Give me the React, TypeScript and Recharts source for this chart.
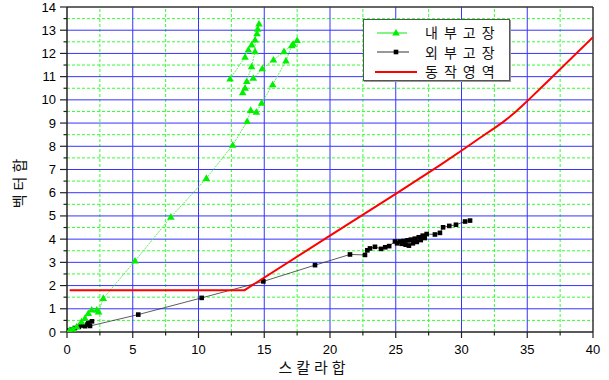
import React from 'react';
import { ScatterChart, Scatter, XAxis, YAxis, ReferenceLine, Legend } from 'recharts';

const internalFault = [
  { x: 0.2, y: 0.08 }, { x: 0.45, y: 0.12 }, { x: 0.74, y: 0.23 }, { x: 1.1, y: 0.44 },
  { x: 1.37, y: 0.59 }, { x: 1.62, y: 0.8 }, { x: 1.88, y: 0.95 }, { x: 2.26, y: 0.95 },
  { x: 2.4, y: 0.87 }, { x: 2.76, y: 1.45 }, { x: 5.17, y: 3.06 }, { x: 7.9, y: 4.95 },
  { x: 10.6, y: 6.62 }, { x: 12.6, y: 8.05 }, { x: 13.7, y: 9.07 }, { x: 13.97, y: 9.55 },
  { x: 14.4, y: 9.47 }, { x: 14.8, y: 9.86 }, { x: 15.64, y: 10.65 }, { x: 16.65, y: 11.68 },
  { x: 17.09, y: 12.33 }, { x: 17.5, y: 12.56 }, { x: 17.2, y: 12.4 }, { x: 16.5, y: 12.08 },
  { x: 15.7, y: 11.72 }, { x: 14.85, y: 11.34 }, { x: 14.17, y: 10.93 }, { x: 13.67, y: 10.79 },
  { x: 13.54, y: 10.5 }, { x: 13.36, y: 10.31 }, { x: 14.04, y: 11.43 }, { x: 14.3, y: 12.08 },
  { x: 14.3, y: 12.58 }, { x: 14.5, y: 13.05 }, { x: 14.6, y: 13.27 }, { x: 14.45, y: 12.85 },
  { x: 14.04, y: 12.37 }, { x: 13.79, y: 12.15 }, { x: 13.54, y: 11.84 }, { x: 12.4, y: 10.9 },
];

const externalFault = [
  { x: 0.1, y: 0.06 }, { x: 0.35, y: 0.1 }, { x: 0.6, y: 0.17 }, { x: 0.9, y: 0.22 },
  { x: 1.05, y: 0.28 }, { x: 1.37, y: 0.25 }, { x: 1.55, y: 0.32 }, { x: 1.62, y: 0.4 },
  { x: 1.9, y: 0.46 }, { x: 1.75, y: 0.26 }, { x: 5.42, y: 0.75 }, { x: 10.24, y: 1.47 },
  { x: 14.93, y: 2.18 }, { x: 18.86, y: 2.88 }, { x: 21.52, y: 3.34 }, { x: 22.66, y: 3.32 },
  { x: 22.84, y: 3.52 }, { x: 23.04, y: 3.6 }, { x: 23.42, y: 3.67 }, { x: 23.88, y: 3.58 },
  { x: 24.2, y: 3.65 }, { x: 24.5, y: 3.7 }, { x: 24.94, y: 3.9 }, { x: 25.1, y: 3.82 },
  { x: 25.3, y: 3.9 }, { x: 25.45, y: 3.8 }, { x: 25.6, y: 3.92 }, { x: 25.75, y: 3.76 },
  { x: 25.9, y: 3.95 }, { x: 26.0, y: 3.72 }, { x: 26.15, y: 3.98 }, { x: 26.3, y: 3.82 },
  { x: 26.45, y: 4.02 }, { x: 26.6, y: 3.88 }, { x: 26.75, y: 4.08 }, { x: 26.9, y: 3.96 },
  { x: 27.05, y: 4.15 }, { x: 27.2, y: 4.05 }, { x: 27.35, y: 4.22 }, { x: 27.98, y: 4.2 },
  { x: 28.36, y: 4.27 }, { x: 28.6, y: 4.51 }, { x: 29.07, y: 4.57 }, { x: 29.58, y: 4.62 },
  { x: 30.27, y: 4.76 }, { x: 30.65, y: 4.8 },
];

const operatingRegion = [
  { x: 0.2, y: 1.8 }, { x: 13.5, y: 1.8 }, { x: 20, y: 4.15 }, { x: 25, y: 5.95 },
  { x: 28.4, y: 7.2 }, { x: 30.1, y: 7.85 }, { x: 31.5, y: 8.4 }, { x: 32.5, y: 8.78 },
  { x: 33.1, y: 9.02 }, { x: 33.6, y: 9.24 }, { x: 34.1, y: 9.48 }, { x: 34.6, y: 9.74 },
  { x: 35.1, y: 10.0 }, { x: 36.7, y: 10.88 }, { x: 40, y: 12.7 },
];

const seriesNames = ['내부고장', '외부고장', '동작영역'];
const xTitle = '스칼라합';
const yTitle = '벡터합';

const xMajorTicks = [0, 5, 10, 15, 20, 25, 30, 35];
const xMinorTicks = [2.5, 7.5, 12.5, 17.5, 22.5, 27.5, 32.5, 37.5];
const xAllTicks = [0, 2.5, 5, 7.5, 10, 12.5, 15, 17.5, 20, 22.5, 25, 27.5, 30, 32.5, 35, 37.5, 40];
const yMajorTicks = [0, 1, 2, 3, 4, 5, 6, 7, 8, 9, 10, 11, 12, 13];
const yMinorTicks = [0.5, 1.5, 2.5, 3.5, 4.5, 5.5, 6.5, 7.5, 8.5, 9.5, 10.5, 11.5, 12.5, 13.5];
const yAllTicks = [0, 0.5, 1, 1.5, 2, 2.5, 3, 3.5, 4, 4.5, 5, 5.5, 6, 6.5, 7, 7.5, 8, 8.5, 9, 9.5, 10, 10.5, 11, 11.5, 12, 12.5, 13, 13.5, 14];

const GREEN = '#00f000';
const GREEN_LINE = '#5cee5c';
const BLUE = '#3535ff';
const GRID_GREEN = '#33ff33';
const RED = '#ff0000';
const TICK_FONT = '"Liberation Sans", Arial, sans-serif';
const KO_FONT = '"Noto Sans CJK KR", sans-serif';

const Triangle = (props: any) => {
  const { cx, cy } = props;
  if (cx == null || cy == null) return <g />;
  return <polygon points={`${cx},${cy - 4} ${cx - 3.8},${cy + 2.6} ${cx + 3.8},${cy + 2.6}`} fill={GREEN} />;
};

const Square = (props: any) => {
  const { cx, cy } = props;
  if (cx == null || cy == null) return <g />;
  return <rect x={cx - 2.3} y={cy - 2.3} width={4.6} height={4.6} fill="#000" />;
};

const NoDot = () => <g />;

const XTick = (props: any) => {
  const { x, y, payload } = props;
  const major = payload.value % 5 === 0;
  return (
    <g>
      <line x1={x} x2={x} y1={y} y2={y + (major ? 6 : 3.5)} stroke="#222" strokeWidth={1.2} />
      {major && (
        <text x={x} y={y + 22} textAnchor="middle" fontSize={13} fontFamily={TICK_FONT} fill="#000">
          {payload.value}
        </text>
      )}
    </g>
  );
};

const YTick = (props: any) => {
  const { x, y, payload } = props;
  const major = Number.isInteger(payload.value);
  return (
    <g>
      <line x1={x} x2={x - (major ? 7 : 3.5)} y1={y} y2={y} stroke="#222" strokeWidth={1.2} />
      {major && (
        <text x={x - 11} y={y + 4.5} textAnchor="end" fontSize={13} fontFamily={TICK_FONT} fill="#000">
          {payload.value}
        </text>
      )}
    </g>
  );
};

const XTitle = (props: any) => {
  const { viewBox } = props;
  const cx = viewBox.x + viewBox.width / 2 - 16;
  return (
    <text x={cx} y={viewBox.y + 41} textAnchor="middle" fontSize={15} letterSpacing={4} fontFamily={KO_FONT} fill="#111">
      {xTitle}
    </text>
  );
};

const YTitle = (props: any) => {
  const { viewBox } = props;
  const cy = viewBox.y + viewBox.height / 2 + 12;
  const cx = 21;
  return (
    <text x={cx} y={cy} transform={`rotate(-90 ${cx} ${cy})`} textAnchor="middle" dominantBaseline="middle" fontSize={15} letterSpacing={4} fontFamily={KO_FONT} fill="#111">
      {yTitle}
    </text>
  );
};

const LegendContent = () => {
  const rows = [
    {
      name: seriesNames[0],
      sample: (
        <svg width={44} height={14}>
          <line x1={2} x2={32} y1={7} y2={7} stroke={GREEN_LINE} strokeWidth={1.5} />
          <polygon points="21,3 17.2,9.6 24.8,9.6" fill={GREEN} />
        </svg>
      ),
    },
    {
      name: seriesNames[1],
      sample: (
        <svg width={44} height={14}>
          <line x1={2} x2={34} y1={7} y2={7} stroke="#333" strokeWidth={1} />
          <rect x={18.7} y={4.7} width={4.6} height={4.6} fill="#000" />
        </svg>
      ),
    },
    {
      name: seriesNames[2],
      sample: (
        <svg width={44} height={14}>
          <line x1={0} x2={42} y1={7} y2={7} stroke={RED} strokeWidth={2} />
        </svg>
      ),
    },
  ];
  return (
    <div
      style={{
        width: 147,
        height: 62,
        border: '1px solid #555',
        background: '#fff',
        boxSizing: 'border-box',
        padding: '3px 0 0 11px',
        boxShadow: '1px 1px 0 #999',
      }}
    >
      {rows.map((r) => (
        <div key={r.name} style={{ display: 'flex', alignItems: 'center', height: 19.5 }}>
          {r.sample}
          <span style={{ marginLeft: 6, fontFamily: KO_FONT, fontSize: 14, letterSpacing: 6, color: '#111', lineHeight: '19px' }}>
            {r.name}
          </span>
        </div>
      ))}
    </div>
  );
};

export default function App() {
  return (
    <div style={{ position: 'absolute', left: 0, top: 0, width: 609, height: 380, background: '#fff' }}>
      <ScatterChart width={609} height={380} margin={{ top: 7, right: 16, bottom: 0, left: 0 }}>
        <XAxis
          type="number"
          dataKey="x"
          domain={[0, 40]}
          ticks={xAllTicks}
          interval={0}
          height={48}
          tickSize={0}
          tickMargin={0}
          tickLine={false}
          tick={<XTick />}
          axisLine={{ stroke: '#222', strokeWidth: 1.5 }}
          label={<XTitle />}
          allowDataOverflow
        />
        <YAxis
          type="number"
          dataKey="y"
          domain={[0, 14]}
          ticks={yAllTicks}
          interval={0}
          width={67}
          tickSize={0}
          tickMargin={0}
          tickLine={false}
          tick={<YTick />}
          axisLine={{ stroke: '#222', strokeWidth: 1.5 }}
          label={<YTitle />}
          allowDataOverflow
        />
        {yMinorTicks.map((v) => (
          <ReferenceLine key={`ym${v}`} y={v} stroke={GRID_GREEN} strokeDasharray="3 2" strokeWidth={1} />
        ))}
        {xMinorTicks.map((v) => (
          <ReferenceLine key={`xm${v}`} x={v} stroke={GRID_GREEN} strokeDasharray="3 2" strokeWidth={1} />
        ))}
        {yMajorTicks.filter((v) => v > 0).map((v) => (
          <ReferenceLine key={`yM${v}`} y={v} stroke={BLUE} strokeWidth={1} />
        ))}
        {xMajorTicks.filter((v) => v > 0).map((v) => (
          <ReferenceLine key={`xM${v}`} x={v} stroke={BLUE} strokeWidth={1} />
        ))}
        <ReferenceLine y={14} stroke="#333" strokeWidth={1.5} />
        <ReferenceLine x={40} stroke="#333" strokeWidth={1.5} />
        <Scatter
          name={seriesNames[1]}
          data={externalFault}
          line={{ stroke: '#333', strokeWidth: 0.8 }}
          lineType="joint"
          shape={<Square />}
          isAnimationActive={false}
        />
        <Scatter
          name={seriesNames[0]}
          data={internalFault}
          line={{ stroke: GREEN_LINE, strokeWidth: 1, strokeDasharray: '2 1' }}
          lineType="joint"
          shape={<Triangle />}
          isAnimationActive={false}
        />
        <Scatter
          name={seriesNames[2]}
          data={operatingRegion}
          line={{ stroke: RED, strokeWidth: 2 }}
          lineType="joint"
          shape={<NoDot />}
          isAnimationActive={false}
        />
        <Legend
          layout="vertical"
          align="center"
          verticalAlign="middle"
          content={<LegendContent />}
          wrapperStyle={{ position: 'absolute', left: 363, top: 19, width: 147, height: 62 }}
        />
      </ScatterChart>
    </div>
  );
}
